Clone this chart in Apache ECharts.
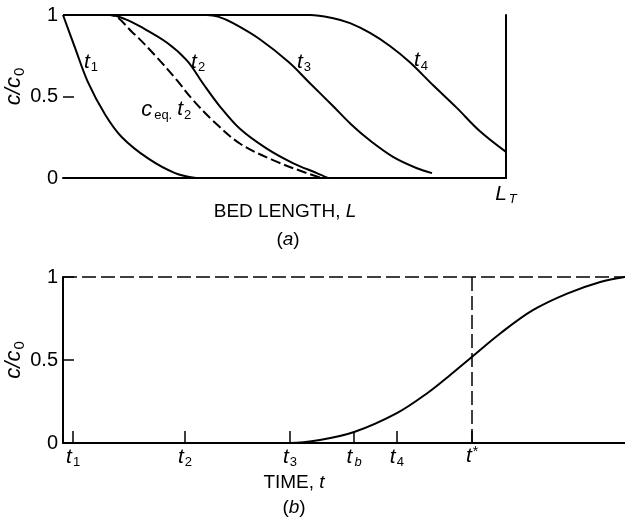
<!DOCTYPE html>
<html lang="en">
<head>
<meta charset="UTF-8">
<title>Fixed-bed breakthrough</title>
<script src="https://cdn.jsdelivr.net/npm/echarts@6/dist/echarts.min.js"></script>
<style>
    *{margin:0;padding:0;box-sizing:border-box;}
    html,body{width:625px;height:522px;background:#fff;overflow:hidden;}
    #main{width:625px;height:522px;}
</style>
</head>
<body>
<div id="main"></div>
<script>
// (a) concentration profiles along the bed (bed length as % of L_T)
var t1Len  = [0, 2.7, 5.6, 9.5, 13.3, 19.2, 25.3, 30];
var t1Conc = [1, 0.80, 0.59, 0.39, 0.25, 0.12, 0.03, 0];
var t2Len  = [0, 10.6, 14, 17.4, 23.5, 28, 31.6, 35.4, 40, 46, 52, 57.3, 59.8];
var t2Conc = [1, 1, 0.975, 0.93, 0.83, 0.72, 0.58, 0.44, 0.30, 0.18, 0.09, 0.03, 0];
var eqLen  = [0, 10.6, 15.8, 21.2, 25.7, 29.3, 33.9, 40, 47.4, 55, 58.5];
var eqConc = [1, 1, 0.89, 0.74, 0.60, 0.48, 0.35, 0.21, 0.11, 0.03, 0];
var t3Len  = [0, 32.5, 35, 38.4, 44.5, 51, 55.8, 61, 65, 69.3, 74.5, 79.9, 83.3];
var t3Conc = [1, 1, 0.99, 0.95, 0.85, 0.71, 0.58, 0.44, 0.33, 0.23, 0.13, 0.06, 0.03];
var t4Len  = [0, 55.8, 61, 64.8, 69.3, 73.8, 78.3, 83.5, 88.9, 94, 100];
var t4Conc = [1, 1, 0.98, 0.95, 0.89, 0.81, 0.71, 0.57, 0.43, 0.29, 0.16];

// (b) breakthrough curve at the bed exit
var timeVal = [0, 40.4, 45.7, 51.8, 59.4, 64.8, 68.9, 72.8, 77.8, 83.6, 89.7, 95.6, 100];
var outConc = [0, 0, 0.018, 0.066, 0.18, 0.30, 0.41, 0.52, 0.66, 0.80, 0.90, 0.97, 1.0];
var timeTicks = [1.8, 21.7, 40.4, 51.8, 59.4, 72.8];
var timeNames = ['t1', 't2', 't3', 'tb', 't4', 't*'];
var tStar = 72.8;

var FONT = 'Liberation Sans';
var rich = {
    t: {fontFamily: FONT, fontStyle: 'italic', fontSize: 21, color: '#000'},
    s: {fontFamily: FONT, fontSize: 13, color: '#000', padding: [11, 0, 0, 1]},
    si: {fontFamily: FONT, fontSize: 13, fontStyle: 'italic', color: '#000', padding: [11, 0, 0, 2]},
    p: {fontFamily: FONT, fontSize: 14, color: '#000', padding: [0, 0, 8, 1]},
    e: {fontFamily: FONT, fontSize: 13, color: '#000', padding: [11, 5, 0, 2]},
    n: {fontFamily: FONT, fontSize: 19, color: '#000'},
    i: {fontFamily: FONT, fontSize: 19, fontStyle: 'italic', color: '#000'},
    c: {fontFamily: FONT, fontStyle: 'italic', fontSize: 22, color: '#000'},
    cs: {fontFamily: FONT, fontSize: 15, color: '#000', padding: [11, 0, 0, 1]}
};

function pairs(xs, ys) {
    return xs.map(function (x, k) { return [x, ys[k]]; });
}
function tLabel(name) {
    var sub = name.slice(1);
    if (sub === '*') return '{t|t}{p|*}';
    if (sub === 'b') return '{t|t}{si|b}';
    return '{t|t}{s|' + sub + '}';
}
function curve(name, xs, ys, label, at, dashed) {
    return {
        type: 'line', name: name, xAxisIndex: 0, yAxisIndex: 0,
        data: pairs(xs, ys), smooth: 0.35, symbol: 'none', clip: false,
        lineStyle: {color: '#000', width: 2, type: dashed ? [10, 4] : 'solid'},
        markPoint: {
            symbol: 'circle', symbolSize: 0, silent: true,
            label: {show: true, position: 'inside', formatter: label, rich: rich},
            data: [{coord: at, value: 0}]
        },
        z: 3
    };
}

var yLabel = {color: '#000', fontFamily: FONT, fontSize: 20, margin: 5};
var yName = '{c|c/c}{cs|0}';

var myChart = echarts.init(document.getElementById('main'));
var option = {
    animation: false,
    backgroundColor: '#fff',
    grid: [
        {left: 63, top: 15, width: 443, height: 163, outerBoundsMode: 'none', containLabel: false},
        {left: 63, top: 277, width: 562, height: 166, outerBoundsMode: 'none', containLabel: false}
    ],
    xAxis: [
        {
            gridIndex: 0, type: 'value', min: 0, max: 100, interval: 100,
            axisLine: {lineStyle: {color: '#000', width: 2}},
            axisTick: {show: false}, splitLine: {show: false},
            axisLabel: {
                margin: 4, rich: rich,
                formatter: function (v) { return v === 100 ? '{t|L}{si|T}' : ''; }
            }
        },
        {
            gridIndex: 1, type: 'value', min: 0, max: 100,
            axisLine: {lineStyle: {color: '#000', width: 2}},
            axisTick: {show: true, inside: true, length: 12, customValues: timeTicks,
                lineStyle: {color: '#000', width: 1.5}},
            axisLabel: {
                customValues: timeTicks, margin: 2, rich: rich,
                formatter: function (v) {
                    var k = timeTicks.indexOf(v);
                    return k < 0 ? '' : tLabel(timeNames[k]);
                }
            },
            splitLine: {show: false}
        }
    ],
    yAxis: [
        {
            gridIndex: 0, type: 'value', min: 0, max: 1, interval: 0.5,
            axisLine: {show: false},
            axisTick: {show: true, inside: true, length: 11, lineStyle: {color: '#000', width: 1.5}},
            axisLabel: yLabel, splitLine: {show: false},
            name: yName, nameLocation: 'middle', nameRotate: 90, nameGap: 36,
            nameMoveOverlap: false, nameTextStyle: {rich: rich, padding: [0, 0, 0, 20]}
        },
        {
            gridIndex: 0, type: 'value', min: 0, max: 1, position: 'right',
            axisLine: {show: true, onZero: false, lineStyle: {color: '#000', width: 2}},
            axisTick: {show: false}, axisLabel: {show: false}, splitLine: {show: false}
        },
        {
            gridIndex: 1, type: 'value', min: 0, max: 1, interval: 0.5,
            axisLine: {show: true, onZero: false, lineStyle: {color: '#000', width: 2}},
            axisTick: {show: true, inside: true, length: 11, lineStyle: {color: '#000', width: 1.5}},
            axisLabel: yLabel, splitLine: {show: false},
            name: yName, nameLocation: 'middle', nameRotate: 90, nameGap: 36,
            nameMoveOverlap: false, nameTextStyle: {rich: rich}
        }
    ],
    series: [
        curve('t1', t1Len, t1Conc, '{t|t}{s|1}', [6.3, 0.71]),
        curve('t2', t2Len, t2Conc, '{t|t}{s|2}', [30.5, 0.71]),
        curve('ceq t2', eqLen, eqConc, '{c|c}{e|eq.}{t|t}{s|2}', [23.3, 0.42], true),
        curve('t3', t3Len, t3Conc, '{t|t}{s|3}', [54.4, 0.71]),
        curve('t4', t4Len, t4Conc, '{t|t}{s|4}', [80.8, 0.72]),
        {
            type: 'line', name: 'outlet', xAxisIndex: 1, yAxisIndex: 2,
            data: pairs(timeVal, outConc), smooth: 0.35, symbol: 'none', clip: false,
            lineStyle: {color: '#000', width: 2},
            markLine: {
                silent: true, symbol: 'none', label: {show: false},
                lineStyle: {color: '#000', width: 1.5, type: [14, 5]},
                data: [{yAxis: 1}, {xAxis: tStar}]
            },
            z: 3
        }
    ],
    graphic: [
        {type: 'text', x: 285, y: 212, style: {text: '{n|BED LENGTH, }{i|L}', rich: rich, align: 'center', verticalAlign: 'middle'}},
        {type: 'text', x: 288, y: 240, style: {text: '{n|(}{i|a}{n|)}', rich: rich, align: 'center', verticalAlign: 'middle'}},
        {type: 'text', x: 294, y: 483, style: {text: '{n|TIME, }{i|t}', rich: rich, align: 'center', verticalAlign: 'middle'}},
        {type: 'text', x: 294, y: 508, style: {text: '{n|(}{i|b}{n|)}', rich: rich, align: 'center', verticalAlign: 'middle'}}
    ]
};
myChart.setOption(option);
</script>
</body>
</html>
